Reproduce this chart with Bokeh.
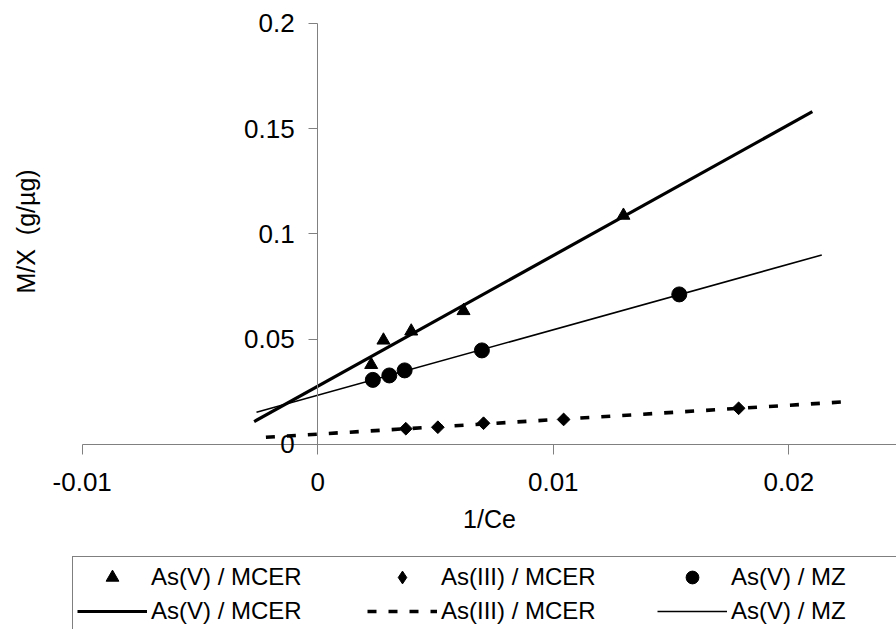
import numpy as np
from bokeh.plotting import figure
from bokeh.models import LinearAxis, FixedTicker, Range1d, Legend, LegendItem, Title
from bokeh.embed import file_html
from bokeh.resources import INLINE

# ---------------- data ----------------
as5_mcer_x = [0.00227, 0.00279, 0.00397, 0.00619, 0.01298]
as5_mcer_y = [0.0379, 0.0495, 0.0538, 0.0635, 0.1088]

as3_mcer_x = [0.00374, 0.00510, 0.00704, 0.01044, 0.01787]
as3_mcer_y = [0.0075, 0.0082, 0.0101, 0.0119, 0.0172]

as5_mz_x = [0.00234, 0.00304, 0.00369, 0.00697, 0.01535]
as5_mz_y = [0.0307, 0.0328, 0.0352, 0.0447, 0.0713]

# extent of each linear trend line (Excel forecast backward / forward)
as5_mcer_trend_range = [-0.0027, 0.0210]
as3_mcer_trend_range = [-0.0022, 0.0225]
as5_mz_trend_range = [-0.0026, 0.0214]

series_labels = ["As(V) / MCER", "As(III) / MCER", "As(V) / MZ"]

x_ticks = [-0.01, 0, 0.01, 0.02]
x_tick_labels = ["-0.01", "0", "0.01", "0.02"]
y_ticks = [0, 0.05, 0.1, 0.15, 0.2]
y_tick_labels = ["0", "0.05", "0.1", "0.15", "0.2"]
x_axis_bounds = (-0.01, 0.025)
y_axis_bounds = (0, 0.2)

x_title = "1/Ce"
y_title = "M/X \u00a0(g/µg)"

FONT = "Liberation Sans"
AXIS_GREY = "#808080"

# ---------------- figure ----------------
# The frame reaches the bottom of the page so that the crossing axes, their
# labels and the legend (all drawn inside the frame) are not clipped.
p = figure(width=896, height=629,
           x_range=Range1d(-0.011558, 0.024573),
           y_range=Range1d(-0.087886, 0.20855),
           output_backend="svg", toolbar_location=None,
           min_border_left=45, min_border_right=0,
           min_border_top=5, min_border_bottom=0)
p.grid.visible = False
p.outline_line_color = None
p.background_fill_color = "white"
p.border_fill_color = "white"

# default axes are hidden; the visible axes cross at (0, 0)
p.yaxis[0].visible = False
p.xaxis[0].visible = False

# y title, far left, centred on the 0 .. 0.2 span of the y axis
ytitle = Title(text=y_title, align="left", offset=336, vertical_align="middle",
               standoff=10, text_font=FONT, text_font_size="25px",
               text_font_style="normal", text_color="black")
p.add_layout(ytitle, "left")

yax = LinearAxis(fixed_location=0, bounds=y_axis_bounds,
                 ticker=FixedTicker(ticks=y_ticks),
                 major_label_overrides=dict(zip(y_ticks, y_tick_labels)))
yax.axis_line_color = AXIS_GREY
yax.major_tick_line_color = AXIS_GREY
yax.major_tick_out = 9
yax.major_tick_in = 0
yax.minor_tick_line_color = None
yax.major_label_text_font = FONT
yax.major_label_text_font_size = "26px"
yax.major_label_text_color = "black"
yax.major_label_standoff = 14
p.add_layout(yax, "left")

xax = LinearAxis(fixed_location=0, bounds=x_axis_bounds,
                 ticker=FixedTicker(ticks=x_ticks),
                 major_label_overrides=dict(zip(x_ticks, x_tick_labels)))
xax.axis_line_color = AXIS_GREY
xax.major_tick_line_color = AXIS_GREY
xax.major_tick_out = 10
xax.major_tick_in = 0
xax.minor_tick_line_color = None
xax.major_label_text_font = FONT
xax.major_label_text_font_size = "26px"
xax.major_label_text_color = "black"
xax.major_label_standoff = 19
xax.axis_label = x_title
xax.axis_label_text_font = FONT
xax.axis_label_text_font_size = "25px"
xax.axis_label_text_font_style = "normal"
xax.axis_label_text_color = "black"
xax.axis_label_standoff = 10
p.add_layout(xax, "below")


# ---------------- trend lines (least squares fits) ----------------
def trend(xs, ys, xr):
    m, b = np.polyfit(np.array(xs), np.array(ys), 1)
    xx = np.array(xr)
    return xx, m * xx + b


tx, ty = trend(as5_mcer_x, as5_mcer_y, as5_mcer_trend_range)
l_v_mcer = p.line(tx, ty, line_color="black", line_width=3.2)
tx, ty = trend(as3_mcer_x, as3_mcer_y, as3_mcer_trend_range)
l_iii_mcer = p.line(tx, ty, line_color="black", line_width=3.6, line_dash="9 12")
tx, ty = trend(as5_mz_x, as5_mz_y, as5_mz_trend_range)
l_v_mz = p.line(tx, ty, line_color="black", line_width=1.6)

# ---------------- markers ----------------
m_v_mcer = p.scatter(as5_mcer_x, as5_mcer_y, marker="triangle", size=13,
                     fill_color="black", line_color="black")
# diamond glyph used for the legend swatch (legend markers are drawn
# unrotated); it sits fully inside the rotated squares drawn on top of it
sw_iii_mcer = p.scatter(as3_mcer_x, as3_mcer_y, marker="diamond", size=11,
                        fill_color="black", line_color="black")
m_iii_mcer = p.scatter(as3_mcer_x, as3_mcer_y, marker="square", angle=np.pi / 4,
                       size=9, fill_color="black", line_color="black")
m_v_mz = p.scatter(as5_mz_x, as5_mz_y, marker="circle", size=15,
                   fill_color="black", line_color="black")

# ---------------- legend ----------------
items = [
    LegendItem(label=series_labels[0], renderers=[m_v_mcer]),
    LegendItem(label=series_labels[1], renderers=[sw_iii_mcer]),
    LegendItem(label=series_labels[2], renderers=[m_v_mz]),
    LegendItem(label=series_labels[0], renderers=[l_v_mcer]),
    LegendItem(label=series_labels[1], renderers=[l_iii_mcer]),
    LegendItem(label=series_labels[2], renderers=[l_v_mz]),
]
legend = Legend(items=items, orientation="horizontal", ncols=3,
                location=(27, -3))
legend.label_text_font = FONT
legend.label_text_font_size = "24px"
legend.label_text_color = "black"
legend.glyph_width = 70
legend.glyph_height = 32
legend.label_standoff = 4
legend.label_width = 214
legend.label_height = 32
legend.spacing = 2
legend.padding = 4
legend.margin = 0
legend.border_line_color = "black"
legend.border_line_width = 1
legend.background_fill_color = "white"
legend.background_fill_alpha = 1
p.add_layout(legend, "center")

open("out.html", "w").write(file_html(p, INLINE))
